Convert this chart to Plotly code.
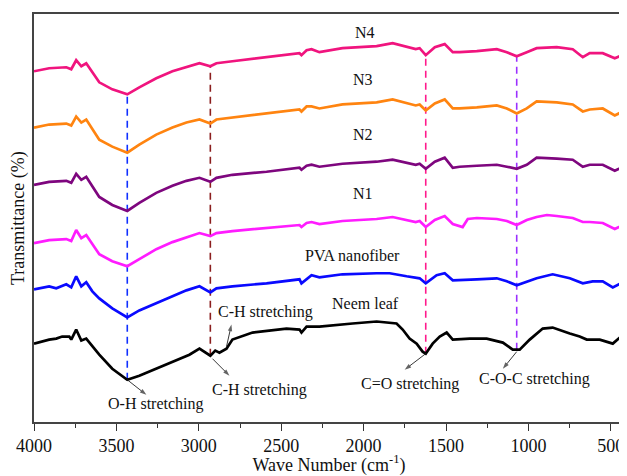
import numpy as np
import plotly.graph_objects as go

# ---------------- data ----------------
wn_N4 = [4000, 3908, 3804, 3774, 3744, 3713, 3683, 3646, 3604, 3525, 3434, 3361, 3258, 3160, 3075,
         2996, 2930, 2893, 2796, 2589, 2389, 2377, 2346, 2316, 2268, 2128, 1921, 1824, 1739, 1684,
         1660, 1623, 1568, 1508, 1459, 1417, 1313, 1192, 1131, 1071, 1010, 950, 828, 731, 670,
         628, 549, 476, 415]
T_N4 = [87.25, 88.0, 88.25, 87.75, 90.0, 88.5, 89.25, 87.0, 84.5, 82.75, 81.5, 83.25, 85.5, 87.25, 88.25,
        89.25, 88.5, 89.25, 89.75, 90.75, 91.75, 91.25, 92.5, 92.75, 92.0, 93.0, 93.5, 94.25, 93.25, 92.75,
        93.0, 91.25, 93.25, 94.0, 92.0, 92.0, 92.25, 92.75, 92.0, 91.0, 92.0, 93.0, 93.25, 92.75, 90.75,
        91.75, 91.75, 90.5, 91.5]

wn_N3 = wn_N4
T_N3 = [73.25, 74.0, 74.25, 73.75, 76.0, 74.5, 75.25, 73.0, 70.25, 68.5, 67.0, 69.0, 71.5, 73.25, 74.5,
        75.25, 74.25, 75.25, 75.75, 76.75, 77.75, 77.25, 78.5, 78.5, 78.0, 79.0, 79.5, 80.25, 79.25, 78.75,
        79.0, 77.5, 79.25, 80.25, 78.0, 78.0, 78.25, 78.75, 78.0, 76.75, 78.0, 79.75, 79.5, 79.0, 77.25,
        77.75, 78.0, 76.25, 77.5]

wn_N2 = wn_N4
T_N2 = [59.0, 59.75, 60.0, 59.5, 61.75, 60.25, 61.0, 58.5, 56.0, 54.0, 52.5, 54.5, 57.0, 58.75, 60.0,
        60.75, 59.75, 60.75, 61.5, 62.25, 63.25, 62.75, 63.75, 64.0, 63.5, 64.25, 64.75, 65.25, 64.5, 64.0,
        64.25, 63.0, 64.75, 65.75, 63.25, 63.5, 63.75, 64.0, 63.5, 63.0, 64.0, 65.75, 65.5, 65.25, 63.5,
        64.0, 64.0, 62.5, 63.75]

wn_N1 = [4000, 3908, 3804, 3774, 3744, 3713, 3683, 3646, 3604, 3525, 3434, 3361, 3258, 3160, 3075,
         2996, 2930, 2893, 2796, 2589, 2389, 2377, 2346, 2316, 2268, 2128, 1921, 1824, 1739, 1684,
         1660, 1623, 1568, 1508, 1459, 1399, 1368, 1313, 1192, 1131, 1071, 1010, 950, 888, 828, 731,
         670, 628, 549, 476, 415]
T_N1 = [44.5, 45.25, 45.5, 45.0, 47.75, 45.75, 46.5, 44.25, 41.75, 40.0, 38.75, 40.5, 43.0, 44.75, 46.0,
        47.0, 46.25, 47.0, 47.5, 48.25, 49.0, 48.5, 49.5, 49.75, 49.25, 50.0, 50.5, 51.0, 50.25, 49.75,
        50.0, 48.5, 50.25, 51.25, 49.25, 48.5, 50.5, 50.75, 50.5, 50.0, 49.0, 50.25, 51.0, 51.5, 51.25, 50.75,
        49.75, 49.75, 49.5, 48.0, 49.25]

wn_PVA = [4000, 3908, 3865, 3804, 3774, 3744, 3713, 3683, 3646, 3604, 3525, 3434, 3361, 3258, 3160,
          3075, 2996, 2930, 2893, 2796, 2589, 2389, 2377, 2316, 2268, 2128, 1921, 1842, 1739, 1660,
          1623, 1557, 1508, 1459, 1313, 1192, 1131, 1071, 950, 853, 749, 670, 610, 549, 488, 415]
T_PVA = [33.0, 33.75, 33.25, 34.25, 33.5, 36.25, 33.75, 34.75, 32.5, 30.75, 28.25, 26.0, 27.75, 29.5, 31.25,
         32.75, 33.75, 32.25, 33.25, 33.75, 34.5, 35.5, 34.5, 36.5, 36.0, 36.75, 37.0, 37.0, 36.25, 35.75,
         34.5, 36.5, 37.0, 35.25, 35.5, 35.75, 35.0, 34.0, 35.75, 36.75, 35.75, 34.5, 35.0, 35.0, 33.5, 35.0]

wn_Neem = [4000, 3908, 3865, 3829, 3786, 3774, 3744, 3713, 3683, 3646, 3604, 3525, 3434, 3361, 3258,
           3160, 3057, 2996, 2930, 2900, 2875, 2832, 2796, 2674, 2468, 2389, 2377, 2346, 2268, 2067,
           1921, 1800, 1763, 1721, 1678, 1642, 1623, 1581, 1538, 1496, 1459, 1356, 1253, 1155, 1095,
           1053, 992, 913, 853, 749, 689, 646, 567, 488, 445, 415]
T_Neem = [19.5, 20.5, 20.75, 21.25, 21.25, 20.5, 23.0, 20.25, 20.75, 18.75, 16.75, 13.25, 10.5, 11.5, 13.25,
          15.0, 16.75, 18.25, 16.5, 17.75, 17.25, 18.25, 20.5, 22.25, 23.25, 23.0, 22.25, 23.75, 23.75, 24.5,
          25.0, 24.5, 23.0, 20.75, 19.5, 17.5, 17.0, 19.5, 21.25, 22.25, 20.5, 20.75, 20.75, 19.75, 18.0,
          18.0, 20.5, 23.25, 23.5, 22.0, 21.25, 20.5, 20.5, 19.5, 21.0, 21.25]

series_names = ["N4", "N3", "N2", "N1", "PVA nanofiber", "Neem leaf"]
series_colors = ["#F0147E", "#FF8410", "#7E067E", "#FF1CFF", "#0A0AFF", "#000000"]

# labels of the spectra (wavenumber, transmittance)
label_wn = [1994, 2006, 2006, 2006, 2067, 1988]
label_T = [97.0, 85.25, 71.5, 56.75, 41.5, 29.5]

# band markers
band_wn = [3434, 2930, 1623, 1071]
band_colors = ["#1030FF", "#8B1E1E", "#FF1A8C", "#9B30FF"]

# band annotations: text, text position, arrow tail (on curve), arrow head
band_text = ["O-H stretching", "C-H stretching", "C-H stretching", "C=O stretching", "C-O-C stretching"]
band_text_wn = [3258, 2595, 2632, 1721, 961]
band_text_T = [4.5, 27.25, 8.0, 9.5, 10.75]
arrow_tail_wn = [3434, 2832, 2917, 1623, 1071]
arrow_tail_T = [10.5, 18.75, 15.75, 17.0, 17.5]
arrow_head_wn = [3318, 2802, 2814, 1751, 1155]
arrow_head_T = [6.75, 24.25, 11.5, 13.0, 13.25]

x_ticks = [4000, 3500, 3000, 2500, 2000, 1500, 1000, 500]

# ---------------- figure ----------------
FONT = "Liberation Serif, Times New Roman, serif"
fig = go.Figure()

all_wn = [wn_N4, wn_N3, wn_N2, wn_N1, wn_PVA, wn_Neem]
all_T = [T_N4, T_N3, T_N2, T_N1, T_PVA, T_Neem]
for name, c, xs, ys in zip(series_names, series_colors, all_wn, all_T):
    fig.add_trace(go.Scatter(x=xs, y=ys, mode="lines", name=name,
                             line=dict(color=c, width=2.7), showlegend=False))

# arrows (thin line ending in an arrow head)
for tx, ty, hx, hy in zip(arrow_tail_wn, arrow_tail_T, arrow_head_wn, arrow_head_T):
    fig.add_trace(go.Scatter(x=[tx, hx], y=[ty, hy], mode="lines+markers", showlegend=False,
                             hoverinfo="skip",
                             line=dict(color="#222", width=0.9),
                             marker=dict(symbol=["circle", "arrow"], size=[0, 7], color="#222",
                                         angleref="previous", line=dict(width=0))))

# dashed band markers from the top spectrum down to the neem spectrum
top_x = np.array(wn_N4[::-1], dtype=float)
top_y = np.array(T_N4[::-1], dtype=float)
bot_x = np.array(wn_Neem[::-1], dtype=float)
bot_y = np.array(T_Neem[::-1], dtype=float)
for w, c in zip(band_wn, band_colors):
    y0 = float(np.interp(w, bot_x, bot_y))
    y1 = float(np.interp(w, top_x, top_y))
    fig.add_shape(type="line", xref="x", yref="y", x0=w, x1=w, y0=y0, y1=y1,
                  line=dict(color=c, width=1.6, dash="7px,5px"), layer="below")

annotations = []
for name, x, y in zip(series_names, label_wn, label_T):
    annotations.append(dict(x=x, y=y, xref="x", yref="y", text=name, showarrow=False,
                            font=dict(family=FONT, size=16, color="#111")))
for t, x, y in zip(band_text, band_text_wn, band_text_T):
    annotations.append(dict(x=x, y=y, xref="x", yref="y", text=t, showarrow=False,
                            font=dict(family=FONT, size=16, color="#111")))
annotations.append(dict(x=0, y=0.5, xref="paper", yref="paper", xshift=-16, text="Transmittance (%)",
                        textangle=-90, showarrow=False, xanchor="center", yanchor="middle",
                        font=dict(family=FONT, size=18, color="#111")))

# the page body has an 8px margin, so the figure is sized to fit the 627x476 window
fig.update_layout(
    width=619, height=468,
    margin=dict(l=26, r=1, t=6, b=48),
    paper_bgcolor="white", plot_bgcolor="white",
    annotations=annotations,
    xaxis=dict(range=[4000, 420], tickvals=x_ticks, ticktext=[str(v) for v in x_ticks],
               ticks="outside", ticklen=7, tickwidth=1.2, tickcolor="#333",
               minor=dict(dtick=250, tick0=0, ticks="outside", ticklen=4, tickwidth=1.2, tickcolor="#333"),
               showline=True, linecolor="#444", linewidth=1.6, mirror=True,
               showgrid=False, zeroline=False,
               tickfont=dict(family=FONT, size=18, color="#111"),
               title=dict(text="Wave Number (cm<sup>-1</sup>)", standoff=6,
                          font=dict(family=FONT, size=18, color="#111"))),
    yaxis=dict(range=[0, 101.5], showticklabels=False, ticks="",
               showline=True, linecolor="#444", linewidth=1.6, mirror=True,
               showgrid=False, zeroline=False),
)

fig.write_html("out.html")
